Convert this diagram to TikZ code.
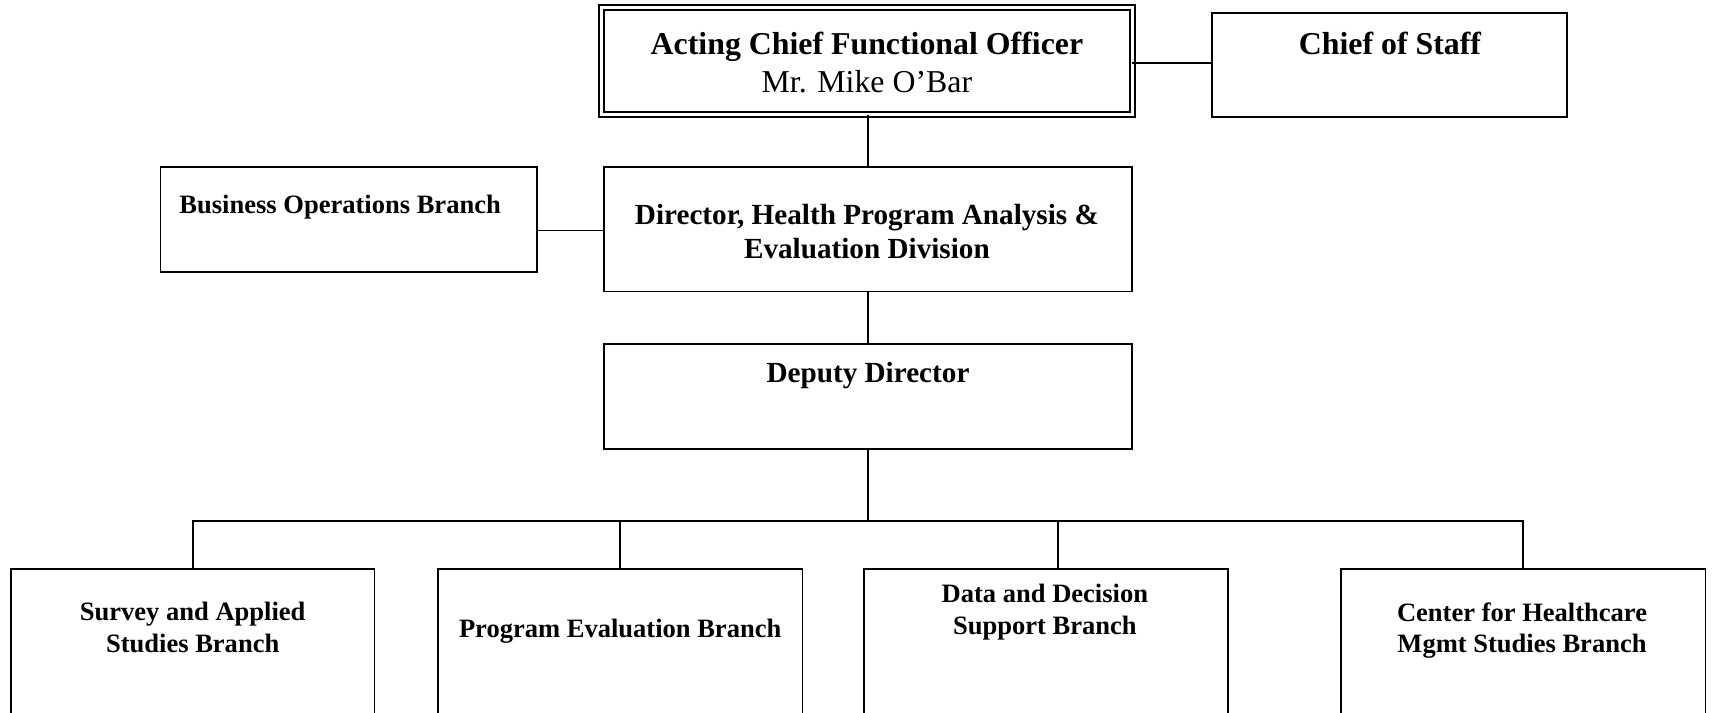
\documentclass[tikz,border=0pt]{standalone}
\usepackage{fontspec}
\setmainfont{Liberation Serif}
\def\pxu{0.4115pt}
\begin{document}
\begin{tikzpicture}[x=0.4115pt,y=-0.4115pt,
  box/.style={draw, line width=0.7pt, rectangle, inner sep=0pt, outer sep=0pt},
  conn/.style={line width=0.65pt},
  tbig/.style={font=\fontsize{12}{14.4}\selectfont\bfseries, align=center, inner sep=0pt},
  tmid/.style={font=\fontsize{11}{12.8}\selectfont\bfseries, align=center, inner sep=0pt},
  tsml/.style={font=\fontsize{10}{12}\selectfont\bfseries, align=center, inner sep=0pt}]
\useasboundingbox (0,0) rectangle (1568,653);
\clip (0,0) rectangle (1568,653);
% boxes
\node[box, double, double distance=1.2pt, minimum width=486*\pxu, minimum height=98*\pxu] (top) at (794,56) {};
\node[box, minimum width=325*\pxu, minimum height=95*\pxu] (cos) at (1272.5,59.5) {};
\node[box, minimum width=484*\pxu, minimum height=114*\pxu] (dir) at (795,210) {};
\node[box, minimum width=345*\pxu, minimum height=96*\pxu] (bo) at (319.5,201) {};
\node[box, minimum width=484*\pxu, minimum height=96*\pxu] (dep) at (795,363) {};
\node[box, minimum width=333*\pxu, minimum height=159*\pxu] (b1) at (176.5,600.5) {};
\node[box, minimum width=334*\pxu, minimum height=159*\pxu] (b2) at (568,600.5) {};
\node[box, minimum width=334*\pxu, minimum height=159*\pxu] (b3) at (958,600.5) {};
\node[box, minimum width=334*\pxu, minimum height=159*\pxu] (b4) at (1395,600.5) {};
% texts
\node[tbig] (ttop) at (794,57) {Acting Chief Functional Officer\\{\mdseries Mr. Mike O’Bar}};
\node[tbig] (tcos) at (1273,40) {Chief of Staff};
\node[tsml] (tbo) at (311.5,190) {Business Operations Branch};
\node[tmid] (tdir) at (794,212) {Director, Health Program Analysis \&\\Evaluation Division};
\node[tmid] (tdep) at (795,344) {Deputy Director};
\node[tsml] (tb1) at (176.5,574.5) {Survey and Applied\\Studies Branch};
\node[tsml] (tb2) at (568,578) {Program Evaluation Branch};
\node[tsml] (tb3) at (957,561) {Data and Decision\\Support Branch};
\node[tsml] (tb4) at (1394,577.5) {Center for Healthcare\\Mgmt Studies Branch};
% connectors
\coordinate (bus) at (795,477);
\coordinate (d3) at (969,521);
\draw[conn] (top.east |- 0,58) -- (cos.west |- 0,58);
\draw[conn] (dir.north |- top.south) -- (dir.north);
\draw[conn] (dir.west |- 0,211) -- (bo.east |- 0,211);
\draw[conn] (dir.south) -- (dep.north);
\draw[conn] (dep.south) -- (bus);
\draw[conn] (b1.north) |- (bus) -| (b4.north);
\draw[conn] (b2.north) -- (b2.north |- bus);
\draw[conn] (d3) -- (d3 |- bus);
\end{tikzpicture}
\end{document}
